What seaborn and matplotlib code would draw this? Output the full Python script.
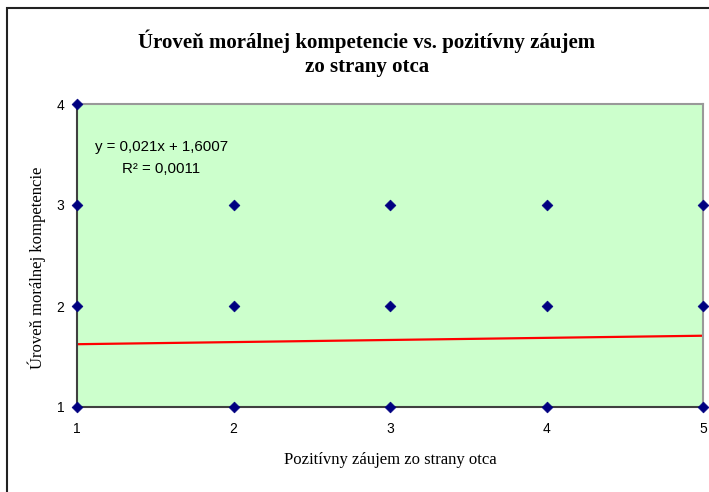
import matplotlib
matplotlib.use("Agg")
import matplotlib.pyplot as plt
import seaborn as sns
import pandas as pd
from matplotlib.patches import Rectangle

# Data
x_vals = [1, 1, 1, 1, 2, 2, 2, 3, 3, 3, 4, 4, 4, 5, 5, 5]
y_vals = [1, 2, 3, 4, 1, 2, 3, 1, 2, 3, 1, 2, 3, 1, 2, 3]
slope = 0.021
intercept = 1.6007
r_squared = "0,0011"
x_ticks = [1, 2, 3, 4, 5]
y_ticks = [1, 2, 3, 4]

title = "Úroveň morálnej kompetencie vs. pozitívny záujem\nzo strany otca"
x_label = "Pozitívny záujem zo strany otca"
y_label = "Úroveň morálnej kompetencie"

sns.set_style("white")
plt.rcParams['font.family'] = ['Liberation Sans', 'DejaVu Sans']
plt.rcParams['text.color'] = '#000000'

df = pd.DataFrame({"x": x_vals, "y": y_vals})
trend = pd.DataFrame({"x": [min(x_ticks), max(x_ticks)]})
trend["y"] = intercept + slope * trend["x"]

fig = plt.figure(figsize=(7.09, 4.92), dpi=100)
ax = fig.add_axes([77/709, 1-407/492, (703-77)/709, (407-104)/492])
ax.set_facecolor("#CCFFCC")

sns.lineplot(data=trend, x="x", y="y", ax=ax, color="#FF0000", linewidth=1.6, zorder=2)
sns.scatterplot(data=df, x="x", y="y", ax=ax, marker="D", s=30, color="#000080",
                edgecolor="#000080", linewidth=0.5, zorder=3, clip_on=False)

ax.set_xlim(1, 5)
ax.set_ylim(1, 4)
ax.set_xticks(x_ticks)
ax.set_yticks(y_ticks)
ax.tick_params(axis="both", length=0, labelsize=10, colors="#000000")
ax.tick_params(axis="x", pad=11)
ax.tick_params(axis="y", pad=9)
ax.set_xlabel("")
ax.set_ylabel("")

for side in ["left", "bottom"]:
    ax.spines[side].set_color("#404040")
    ax.spines[side].set_linewidth(1.5)
for side in ["top", "right"]:
    ax.spines[side].set_color("#999999")
    ax.spines[side].set_linewidth(1.5)

serif = ['Liberation Serif', 'DejaVu Serif']
fig.text(367/709, 1-53/492, title, ha="center", va="center", fontsize=15,
         fontweight="bold", family=serif, linespacing=1.25, color="#000000")
fig.text(390/709, 1-460/492, x_label, ha="center", va="center", fontsize=12,
         family=serif, color="#000000")
fig.text(37/709, 1-268/492, y_label, ha="center", va="center", fontsize=12,
         family=serif, rotation=90, color="#000000")

eq = f"y = {slope:.3f}x + {intercept:.4f}".replace(".", ",")
fig.text(162/709, 1-147/492, eq, ha="center", va="center", fontsize=10.8, color="#000000")
fig.text(161/709, 1-169/492, f"R² = {r_squared}", ha="center", va="center",
         fontsize=10.8, color="#000000")

fig.add_artist(Rectangle((7/709, -0.1), 1.2, 1 - 8/492 + 0.1, transform=fig.transFigure,
                         fill=False, edgecolor="#222222", linewidth=1.5))

fig.savefig("out.png", dpi=100)
